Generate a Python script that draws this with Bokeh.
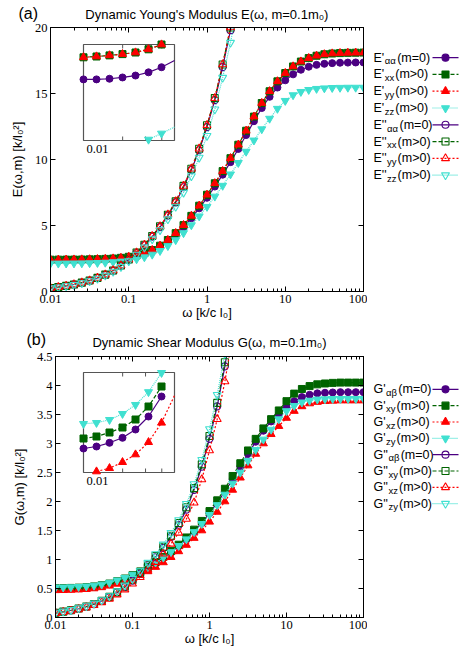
import math
from bokeh.plotting import figure
from bokeh.models import (Range1d, LogScale, LinearScale, LogAxis, LinearAxis,
                          FixedTicker, CustomJSTickFormatter)
from bokeh.layouts import row, column
from bokeh.embed import file_html
from bokeh.resources import INLINE
from bokeh.core.properties import value

# ---------------- data ----------------
omega = [0.01, 0.01259, 0.01585, 0.01995, 0.02512, 0.03162, 0.03981, 0.05012, 0.0631, 0.07943,
         0.1, 0.1259, 0.1585, 0.1995, 0.2512, 0.3162, 0.3981, 0.5012, 0.631, 0.7943,
         1.0, 1.259, 1.585, 1.995, 2.512, 3.162, 3.981, 5.012, 6.31, 7.943,
         10.0, 12.59, 15.85, 19.95, 25.12, 31.62, 39.81, 50.12, 63.1, 79.43, 100.0]

# panel (a): storage E'
E_st_aa = [2.341, 2.341, 2.343, 2.347, 2.353, 2.363, 2.379, 2.40, 2.43, 2.48,
           2.56, 2.67, 2.83, 3.05, 3.37, 3.78, 4.28, 4.87, 5.55, 6.3,
           7.1, 7.95, 8.85, 9.8, 10.8, 11.85, 12.9, 13.9, 14.75, 15.45,
           16.0, 16.45, 16.8, 17.03, 17.17, 17.25, 17.3, 17.33, 17.34, 17.35, 17.35]
E_st_xx = [2.41, 2.4125, 2.416, 2.42, 2.425, 2.435, 2.45, 2.47, 2.50, 2.55,
           2.63, 2.74, 2.91, 3.14, 3.47, 3.9, 4.42, 5.03, 5.73, 6.5,
           7.33, 8.2, 9.12, 10.1, 11.12, 12.18, 13.25, 14.28, 15.17, 15.92,
           16.55, 17.05, 17.42, 17.68, 17.86, 17.97, 18.03, 18.06, 18.08, 18.09, 18.1]
E_st_yy = [2.41, 2.4125, 2.416, 2.42, 2.425, 2.435, 2.45, 2.47, 2.50, 2.55,
           2.63, 2.74, 2.91, 3.14, 3.47, 3.9, 4.42, 5.03, 5.73, 6.5,
           7.33, 8.2, 9.12, 10.1, 11.12, 12.18, 13.25, 14.28, 15.17, 15.92,
           16.55, 17.05, 17.42, 17.68, 17.86, 17.97, 18.03, 18.06, 18.08, 18.09, 18.1]
E_st_zz = [2.125, 2.127, 2.13, 2.135, 2.142, 2.153, 2.172, 2.192, 2.23, 2.28,
           2.35, 2.45, 2.6, 2.8, 3.08, 3.45, 3.9, 4.43, 5.03, 5.7,
           6.42, 7.2, 8.02, 8.88, 9.75, 10.6, 11.45, 12.3, 13.1, 13.85,
           14.45, 14.88, 15.13, 15.28, 15.36, 15.4, 15.43, 15.44, 15.45, 15.45, 15.45]
# panel (a): loss E'' (curves leave the top of the plot)
E_ls_aa = [0.26, 0.33, 0.42, 0.53, 0.66, 0.82, 1.02, 1.27, 1.57, 1.95,
           2.4, 2.92, 3.5, 4.15, 4.88, 5.75, 6.75, 7.9, 9.2, 10.7,
           12.45, 14.5, 17.0, 19.8, 23.2]
E_ls_xx = [0.26, 0.335, 0.425, 0.535, 0.67, 0.83, 1.03, 1.28, 1.59, 1.97,
           2.43, 2.95, 3.54, 4.2, 4.94, 5.82, 6.83, 8.0, 9.3, 10.82,
           12.6, 14.65, 17.2, 20.0, 23.4]
E_ls_yy = [0.26, 0.335, 0.425, 0.535, 0.67, 0.83, 1.03, 1.28, 1.59, 1.97,
           2.43, 2.95, 3.54, 4.2, 4.94, 5.82, 6.83, 8.0, 9.3, 10.82,
           12.6, 14.65, 17.2, 20.0, 23.4]
E_ls_zz = [0.25, 0.32, 0.41, 0.51, 0.64, 0.79, 0.98, 1.22, 1.51, 1.87,
           2.3, 2.8, 3.35, 3.97, 4.66, 5.48, 6.43, 7.5, 8.74, 10.15,
           11.8, 13.8, 16.2, 18.85, 22.0]

# panel (b): storage G'
G_st_ab = [0.494, 0.496, 0.4997, 0.5047, 0.513, 0.526, 0.546, 0.573, 0.61, 0.655,
           0.71, 0.775, 0.85, 0.93, 1.02, 1.12, 1.23, 1.35, 1.48, 1.63,
           1.8, 1.98, 2.17, 2.38, 2.6, 2.82, 3.03, 3.22, 3.38, 3.5,
           3.62, 3.73, 3.80, 3.84, 3.865, 3.875, 3.88, 3.885, 3.885, 3.885, 3.885]
G_st_xy = [0.504, 0.506, 0.51, 0.515, 0.523, 0.536, 0.556, 0.585, 0.625, 0.672,
           0.73, 0.795, 0.87, 0.955, 1.045, 1.145, 1.255, 1.38, 1.515, 1.665,
           1.835, 2.02, 2.22, 2.44, 2.66, 2.88, 3.08, 3.26, 3.42, 3.57,
           3.73, 3.86, 3.94, 3.99, 4.02, 4.035, 4.045, 4.05, 4.05, 4.05, 4.05]
G_st_xz = [0.469, 0.471, 0.4743, 0.4803, 0.488, 0.5003, 0.5197, 0.547, 0.58, 0.62,
           0.67, 0.73, 0.795, 0.87, 0.95, 1.04, 1.14, 1.25, 1.37, 1.5,
           1.65, 1.82, 2.0, 2.2, 2.41, 2.62, 2.82, 3.0, 3.16, 3.3,
           3.44, 3.56, 3.64, 3.69, 3.715, 3.73, 3.735, 3.74, 3.74, 3.74, 3.74]
G_st_zy = [0.5187, 0.5197, 0.5227, 0.5287, 0.5377, 0.5505, 0.5697, 0.60, 0.64, 0.685,
           0.74, 0.80, 0.87, 0.95, 1.035, 1.13, 1.235, 1.35, 1.475, 1.615,
           1.77, 1.94, 2.12, 2.31, 2.5, 2.7, 2.89, 3.07, 3.24, 3.42,
           3.56, 3.65, 3.71, 3.74, 3.76, 3.765, 3.77, 3.77, 3.77, 3.77, 3.77]
# panel (b): loss G''
G_ls_ab = [0.08, 0.099, 0.122, 0.151, 0.186, 0.23, 0.284, 0.35, 0.43, 0.525,
           0.635, 0.76, 0.9, 1.04, 1.2, 1.39, 1.6, 1.86, 2.2, 2.6,
           3.08, 3.64, 4.33, 5.15]
G_ls_xy = [0.082, 0.101, 0.125, 0.154, 0.19, 0.234, 0.289, 0.356, 0.437, 0.534,
           0.646, 0.774, 0.915, 1.06, 1.22, 1.41, 1.63, 1.9, 2.23, 2.64,
           3.13, 3.7, 4.4, 5.25]
G_ls_xz = [0.075, 0.092, 0.113, 0.14, 0.172, 0.212, 0.261, 0.322, 0.395, 0.482,
           0.582, 0.695, 0.82, 0.955, 1.1, 1.27, 1.46, 1.7, 1.98, 2.38,
           2.88, 3.42, 4.07, 4.85]
G_ls_zy = [0.085, 0.105, 0.13, 0.16, 0.197, 0.243, 0.3, 0.37, 0.453, 0.553,
           0.668, 0.8, 0.945, 1.095, 1.26, 1.46, 1.68, 1.96, 2.3, 2.72,
           3.25, 3.84, 4.55, 5.4]

x_major = [0.01, 0.1, 1, 10, 100]
x_minor = [m * 10.0 ** d for d in range(-2, 2) for m in range(2, 10)]
E_ticks = [0, 5, 10, 15, 20]
G_ticks = [0, 0.5, 1, 1.5, 2, 2.5, 3, 3.5, 4, 4.5]
inset_x_ticks = [0.02, 0.03, 0.04]
E_inset_range = (0.01, 0.0501, 2.15, 2.45)
G_inset_range = (0.01, 0.0501, 0.47, 0.57)

# ---------------- style ----------------
PURPLE = "#4b0082"
GREEN = "#006400"
RED = "#ff0000"
CYAN = "#40e0d0"
SANS = "Liberation Sans"
SERIF = "Liberation Serif"

STYLES = {
    "a": (PURPLE, "solid", "circle", 7),
    "x": (GREEN, "4 2", "square", 7),
    "y": (RED, "2 2", "triangle", 8),
    "z": (CYAN, "1 1", "inverted_triangle", 8),
}


def style_axis(ax, labels=True, label_standoff=0):
    ax.axis_line_color = "black"
    ax.axis_line_width = 1
    ax.major_tick_in = 5
    ax.major_tick_out = 0
    ax.minor_tick_in = 3
    ax.minor_tick_out = 0
    ax.major_tick_line_color = "black"
    ax.minor_tick_line_color = "black"
    ax.axis_label_text_font = SANS
    ax.axis_label_text_font_style = "normal"
    ax.axis_label_text_font_size = "13px"
    ax.axis_label_text_color = "black"
    ax.axis_label_standoff = label_standoff
    if labels:
        ax.major_label_text_font = SERIF
        ax.major_label_text_font_size = "12.5px"
        ax.major_label_text_color = "black"
        ax.major_label_standoff = 3
    else:
        ax.formatter = CustomJSTickFormatter(code="return '';")
        ax.major_label_text_font_size = "0px"
        ax.major_label_standoff = 0


def build_main(width, height, left, right, top, bottom, ymax, yticks, ylabel,
               title, title_standoff, tag, tag_dx, tag_standoff,
               storage, loss, inset_rng, inset_box, inset_label_dx):
    p = figure(width=width, height=height, x_axis_type="log",
               x_range=Range1d(0.01, 100), y_range=Range1d(0, ymax),
               min_border_left=left, min_border_right=right,
               min_border_top=top, min_border_bottom=bottom,
               output_backend="svg", toolbar_location=None, title=tag)
    p.background_fill_color = "white"
    p.border_fill_color = "white"
    p.outline_line_color = "black"
    p.xgrid.visible = False
    p.ygrid.visible = False
    p.title.align = "left"
    p.title.offset = tag_dx
    p.title.standoff = tag_standoff
    p.title.text_font = SANS
    p.title.text_font_style = "normal"
    p.title.text_font_size = "16px"
    p.title.text_color = "black"

    xt = FixedTicker(ticks=x_major, minor_ticks=x_minor)
    yt = FixedTicker(ticks=yticks, minor_ticks=[])

    xa = p.xaxis[0]
    xa.ticker = xt
    xa.formatter = CustomJSTickFormatter(code="return tick.toString();")
    xa.axis_label = "ω [k/c l₀]"
    style_axis(xa, label_standoff=-1)
    ya = p.yaxis[0]
    ya.ticker = yt
    ya.formatter = CustomJSTickFormatter(code="return tick.toString();")
    ya.axis_label = ylabel
    style_axis(ya, label_standoff=7)
    top_ax = LogAxis(ticker=xt, axis_label=title)
    style_axis(top_ax, labels=False, label_standoff=title_standoff)
    p.add_layout(top_ax, "above")
    right_ax = LinearAxis(ticker=yt)
    style_axis(right_ax, labels=False)
    p.add_layout(right_ax, "right")

    # main curves
    for key, vals in storage:
        col, dash, mk, sz = STYLES[key]
        xs = omega[:len(vals)]
        p.line(xs, vals, line_color=col, line_width=1.2, line_dash=dash)
        p.scatter(xs, vals, marker=mk, size=sz, fill_color=col, line_color=col)
    for key, vals in loss:
        col, dash, mk, sz = STYLES[key]
        xs = omega[:len(vals)]
        p.line(xs, vals, line_color=col, line_width=1.2, line_dash=dash)
        p.scatter(xs, vals, marker=mk, size=sz, fill_color=None, line_color=col,
                  line_width=1.1)

    # inset (own log/linear scales mapped onto a sub-box of the frame)
    fw = width - left - right
    fh = height - top - bottom
    x0, x1, y0, y1 = inset_rng
    bl, bt, bw, bh = inset_box
    ppd = bw / (math.log10(x1) - math.log10(x0))
    lx0 = math.log10(x0) - bl / ppd
    lx1 = lx0 + fw / ppd
    ppu = bh / (y1 - y0)
    ys0 = y0 - (fh - bt - bh) / ppu
    ys1 = y1 + bt / ppu
    p.extra_x_ranges = {"ix": Range1d(10 ** lx0, 10 ** lx1)}
    p.extra_x_scales = {"ix": LogScale()}
    p.extra_y_ranges = {"iy": Range1d(ys0, ys1)}
    p.extra_y_scales = {"iy": LinearScale()}
    p.quad(left=[x0], right=[x1], bottom=[y0], top=[y1], x_range_name="ix",
           y_range_name="iy", fill_color="white", line_color="#555555", line_width=1.2)
    tl = 4.0 / ppu
    p.segment(x0=inset_x_ticks, x1=inset_x_ticks, y0=[y1] * 3, y1=[y1 - tl] * 3,
              x_range_name="ix", y_range_name="iy", line_color="#555555")
    p.segment(x0=inset_x_ticks, x1=inset_x_ticks, y0=[y0] * 3, y1=[y0 + tl] * 3,
              x_range_name="ix", y_range_name="iy", line_color="#555555")
    p.text(x=[x0], y=[y0], text=["0.01"], x_range_name="ix", y_range_name="iy",
           text_font=value(SERIF), text_font_size=value("12.5px"), text_align="center",
           text_baseline="top", x_offset=inset_label_dx, y_offset=4, text_color="black")
    for key, vals in storage:
        col, dash, mk, sz = STYLES[key]
        pts = [(x, v) for x, v in zip(omega, vals)
               if x <= x1 * 1.001 and y0 - 1e-9 <= v <= y1 + 1e-9]
        if not pts:
            continue
        xs = [a for a, _ in pts]
        vs = [b for _, b in pts]
        p.line(xs, vs, x_range_name="ix", y_range_name="iy", line_color=col,
               line_width=1.2, line_dash=dash)
        mx = [a for a, _ in pts if a < x1 * 0.99]
        mv = [b for a, b in pts if a < x1 * 0.99]
        p.scatter(mx, mv, x_range_name="ix", y_range_name="iy", marker=mk, size=sz,
                  fill_color=col, line_color=col)
    return p


def blank_fig(width, height):
    f = figure(width=width, height=height, x_range=Range1d(0, width),
               y_range=Range1d(0, height), min_border=0, output_backend="svg",
               toolbar_location=None, x_axis_location=None, y_axis_location=None,
               title_location=None)
    f.outline_line_color = None
    f.xgrid.visible = False
    f.ygrid.visible = False
    f.background_fill_color = "white"
    f.border_fill_color = "white"
    return f


def build_legend(width, height, fig_top, rows_page, entries, letter):
    lf = blank_fig(width, height)
    em = {"E": 0.667, "G": 0.778, "'": 0.191, "α": 0.60, "β": 0.58,
          "x": 0.5, "y": 0.5, "z": 0.5}
    for (primes, sub, rest, key, filled), py in zip(entries, rows_page):
        col, dash, mk, sz = STYLES[key]
        y = height - (py - fig_top)
        main = letter + primes
        xm = 6
        xs = xm + sum(em[c] for c in main) * 12.5 + 0.5
        xr = xs + sum(em[c] for c in sub) * 9.5 + 1
        lf.text(x=[xm], y=[y], text=[main], text_font=value(SANS),
                text_font_size=value("12.5px"), text_baseline="middle", text_color="black")
        lf.text(x=[xs], y=[y - 4], text=[sub], text_font=value(SANS),
                text_font_size=value("9.5px"), text_baseline="middle", text_color="black")
        lf.text(x=[xr], y=[y], text=[rest], text_font=value(SANS),
                text_font_size=value("12.5px"), text_baseline="middle", text_color="black")
        lf.line([65, 91], [y, y], line_color=col, line_width=1.2, line_dash=dash)
        lf.scatter([78], [y], marker=mk, size=sz, fill_color=col if filled else None,
                   line_color=col, line_width=1.1)
    return lf


W_MAIN = 367
W_LEG = 98
H1 = 324          # 27 + 264 + 33
H2 = 326          # 32 + 261 + 33

p1 = build_main(W_MAIN, H1, 50, 4, 27, 33, 20, E_ticks, "E(ω,m) [k/l₀²]",
                "Dynamic Young's Modulus E(ω, m=0.1m₀)", 6, "(a)", -32, -36,
                [("a", E_st_aa), ("x", E_st_xx), ("y", E_st_yy), ("z", E_st_zz)],
                [("a", E_ls_aa), ("x", E_ls_xx), ("y", E_ls_yy), ("z", E_ls_zz)],
                E_inset_range, (33, 17, 91, 96), 14)
p2 = build_main(W_MAIN, H2, 55, 4, 32, 33, 4.5, G_ticks, "G(ω,m) [k/l₀²]",
                "Dynamic Shear Modulus G(ω, m=0.1m₀)", 7, "(b)", -29, -33,
                [("a", G_st_ab), ("x", G_st_xy), ("y", G_st_xz), ("z", G_st_zy)],
                [("a", G_ls_ab), ("x", G_ls_xy), ("y", G_ls_xz), ("z", G_ls_zy)],
                G_inset_range, (28, 16, 91, 100), 14)

E_entries = [("'", "αα", "(m=0)", "a", True), ("'", "xx", "(m>0)", "x", True),
             ("'", "yy", "(m>0)", "y", True), ("'", "zz", "(m>0)", "z", True),
             ("''", "αα", "(m=0)", "a", False), ("''", "xx", "(m>0)", "x", False),
             ("''", "yy", "(m>0)", "y", False), ("''", "zz", "(m>0)", "z", False)]
G_entries = [("'", "αβ", "(m=0)", "a", True), ("'", "xy", "(m>0)", "x", True),
             ("'", "xz", "(m>0)", "y", True), ("'", "zy", "(m>0)", "z", True),
             ("''", "αβ", "(m=0)", "a", False), ("''", "xy", "(m>0)", "x", False),
             ("''", "xz", "(m>0)", "y", False), ("''", "zy", "(m>0)", "z", False)]
E_rows = [37 + 20.6 * i for i in range(8)]
G_rows = [365 + 20.4 * i for i in range(8)]

l1 = build_legend(W_LEG, H1, 0, E_rows, E_entries, "E")
l2 = build_legend(W_LEG, H2, H1, G_rows, G_entries, "G")

layout = column(row(p1, l1), row(p2, l2))
open("out.html", "w").write(file_html(layout, INLINE))
